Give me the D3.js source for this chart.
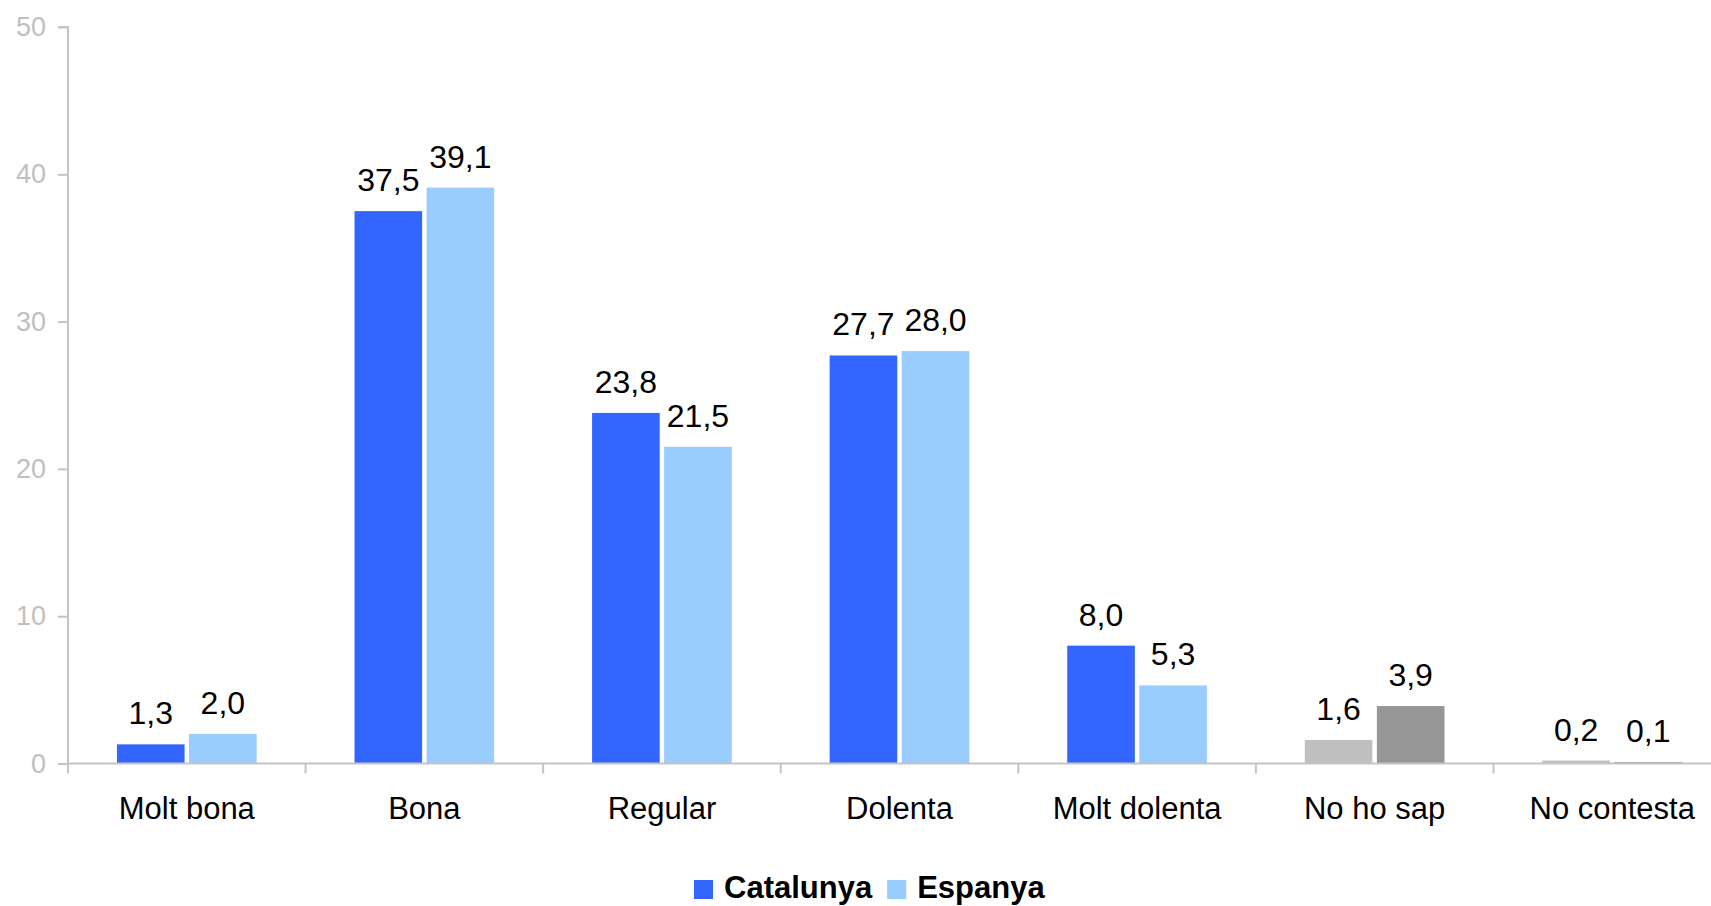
<!DOCTYPE html>
<html>
<head>
<meta charset="utf-8">
<script src="https://cdn.jsdelivr.net/npm/d3@7"></script>
<style>
  body { margin: 0; background: #fff; }
  svg { display: block; font-family: "Liberation Sans", Arial, sans-serif; }
</style>
</head>
<body>
<div id="chart"></div>
<script>
const width = 1711;
const height = 906;

// data
const categories = ['Molt bona', 'Bona', 'Regular', 'Dolenta', 'Molt dolenta', 'No ho sap', 'No contesta'];
const seriesNames = ['Catalunya', 'Espanya'];
const catalunya = [1.3, 37.5, 23.8, 27.7, 8.0, 1.6, 0.2];
const espanya = [2.0, 39.1, 21.5, 28.0, 5.3, 3.9, 0.1];
const yTicks = [0, 10, 20, 30, 40, 50];
const greyCategories = ['No ho sap', 'No contesta'];

const colors = {'Catalunya': '#3366FF', 'Espanya': '#99CCFF'};
const greys = {'Catalunya': '#C0C0C0', 'Espanya': '#969696'};
const axisColor = '#C4C4C4';

const svg = d3.select('#chart')
  .append('svg')
  .attr('width', width)
  .attr('height', height);

// scales
const x = d3.scaleBand()
  .domain(categories)
  .range([68, 1731])
  .padding(0);

const bw = x.bandwidth();
const x1 = d3.scaleBand()
  .domain(seriesNames)
  .range([bw * 0.206, bw * 0.794])
  .paddingInner(0.062);

const y = d3.scaleLinear()
  .domain([0, 50])
  .range([763.5, 27]);

// y axis
const yAxis = svg.append('g')
  .attr('transform', 'translate(68,0)')
  .call(d3.axisLeft(y).tickValues(yTicks).tickSize(10).tickPadding(12));
yAxis.select('.domain').attr('stroke', axisColor).attr('stroke-width', 2)
  .attr('d', 'M-10,' + y(50) + 'H0V' + (y(0) + 10));
yAxis.selectAll('.tick line').attr('stroke', axisColor).attr('stroke-width', 2);
yAxis.selectAll('.tick text')
  .attr('fill', '#BFBFBF')
  .style('font-size', '27px')
  .style('font-family', '"Liberation Sans", Arial, sans-serif');

// rows
const rows = categories.map((c, i) => ({
  category: c,
  values: [
    {series: 'Catalunya', value: catalunya[i]},
    {series: 'Espanya', value: espanya[i]}
  ]
}));

const groups = svg.append('g')
  .selectAll('g')
  .data(rows)
  .join('g')
  .attr('transform', d => 'translate(' + x(d.category) + ',0)');

groups.selectAll('rect')
  .data(d => d.values.map(v => Object.assign({category: d.category}, v)))
  .join('rect')
  .attr('x', d => x1(d.series))
  .attr('width', x1.bandwidth())
  .attr('y', d => y(d.value))
  .attr('height', d => y(0) - y(d.value))
  .attr('fill', d => greyCategories.includes(d.category) ? greys[d.series] : colors[d.series]);

// value labels
const fmt = v => d3.format('.1f')(v).replace('.', ',');
groups.selectAll('text')
  .data(d => d.values)
  .join('text')
  .attr('x', d => x1(d.series) + x1.bandwidth() / 2)
  .attr('y', d => y(d.value) - 20)
  .attr('text-anchor', 'middle')
  .style('font-size', '32px')
  .attr('fill', '#000')
  .text(d => fmt(d.value));

// x axis
const xAxis = svg.append('g')
  .attr('transform', 'translate(0,' + y(0) + ')')
  .call(d3.axisBottom(x).tickSize(0).tickPadding(0));
xAxis.select('.domain').attr('stroke', axisColor).attr('stroke-width', 2)
  .attr('d', 'M68,0H1731');
xAxis.selectAll('.tick text')
  .attr('y', 55)
  .attr('dy', 0)
  .attr('fill', '#000')
  .style('font-size', '31px')
  .style('font-family', '"Liberation Sans", Arial, sans-serif');

// category separators
svg.append('g')
  .selectAll('line')
  .data(categories.slice(1))
  .join('line')
  .attr('x1', d => x(d))
  .attr('x2', d => x(d))
  .attr('y1', y(0))
  .attr('y2', y(0) + 10)
  .attr('stroke', axisColor)
  .attr('stroke-width', 2);

// legend
const legend = svg.append('g');
let lx = 694;
seriesNames.forEach((s) => {
  legend.append('rect')
    .attr('x', lx)
    .attr('y', 880)
    .attr('width', 19)
    .attr('height', 19)
    .attr('fill', colors[s]);
  const t = legend.append('text')
    .attr('x', lx + 30)
    .attr('y', 898)
    .style('font-size', '31px')
    .style('font-weight', 'bold')
    .attr('fill', '#000')
    .text(s);
  lx += 30 + t.node().getComputedTextLength() + 15;
});
</script>
</body>
</html>
